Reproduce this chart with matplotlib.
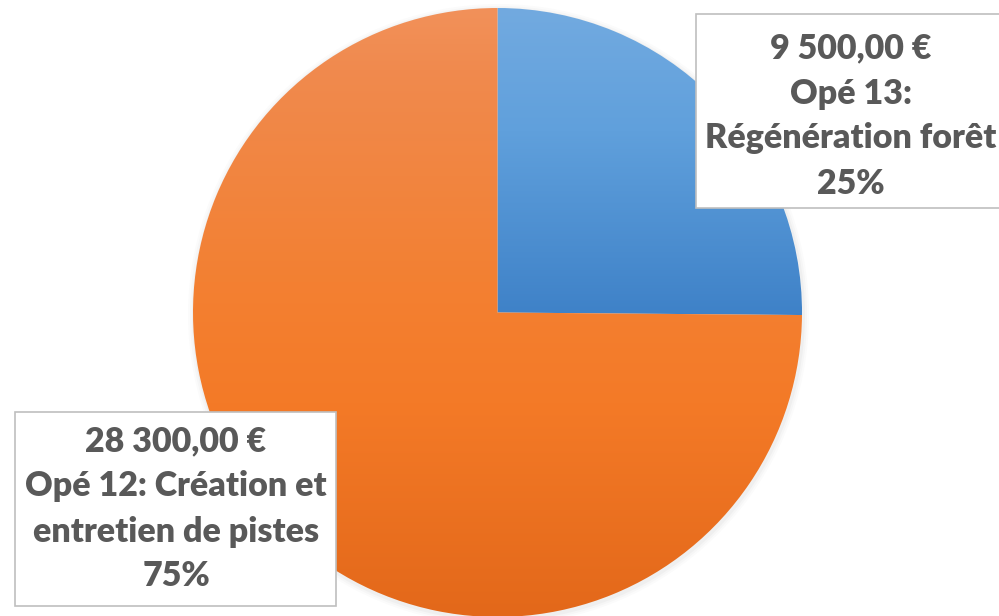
import numpy as np
import matplotlib.pyplot as plt
from matplotlib.colors import LinearSegmentedColormap
from matplotlib.patches import Rectangle

# données
montants = [9500, 28300]
libelles = ["9 500,00 €\nOpé 13:\nRégénération forêt\n25%",
            "28 300,00 €\nOpé 12: Création et\nentretien de pistes\n75%"]
# dégradés (haut -> bas du disque)
degrades = [
    [(0.0, "#72AAE0"), (0.2, "#60A0DC"), (0.5, "#3F82C8"), (1.0, "#3A7AC0")],
    [(0.0, "#F2915A"), (0.1, "#F08A4E"), (0.45, "#F38032"), (0.65, "#F47A27"), (1.0, "#E3681A")],
]

plt.rcParams['font.family'] = ['Lato', 'DejaVu Sans']

fig = plt.figure(figsize=(9.99, 6.16), dpi=100)
ax = fig.add_axes([0, 0, 1, 1])

cx, cy, r = 497.5, 616 - 312.5, 304.5

# ombre légère
for k, a in enumerate([0.05, 0.04, 0.03]):
    sh = plt.Circle((cx + 1, cy - 2), r + 2 + 2 * k, color="#808080", alpha=a, lw=0)
    ax.add_patch(sh)

wedges, _ = ax.pie(montants, center=(cx, cy), radius=r, startangle=90,
                   counterclock=False, frame=True,
                   wedgeprops=dict(linewidth=0.6, edgecolor="#f0f0f0"))

grad = np.linspace(0, 1, 256).reshape(-1, 1)
for w, stops in zip(wedges, degrades):
    cmap = LinearSegmentedColormap.from_list("g", stops)
    im = ax.imshow(grad, cmap=cmap, aspect="auto",
                   extent=[cx - r, cx + r, cy - r, cy + r], origin="upper", zorder=w.get_zorder())
    im.set_clip_path(w)
    w.set_facecolor("none")

ax.set_xlim(0, 999)
ax.set_ylim(0, 616)
ax.set_aspect("auto")
ax.axis("off")

# boîtes d'étiquettes
ax.add_patch(Rectangle((696, 616 - 208), 320, 194, fc="white", ec="#BFBFBF", lw=1.2, zorder=5))
ax.add_patch(Rectangle((15, 616 - 606), 321, 194, fc="white", ec="#BFBFBF", lw=1.2, zorder=5))

ax.text(851, 616 - 116, libelles[0], ha="center", va="center", fontsize=24.5,
        fontweight="heavy", color="#595959", linespacing=1.5, zorder=6)
ax.text(176, 616 - 509, libelles[1], ha="center", va="center", fontsize=24.5,
        fontweight="heavy", color="#595959", linespacing=1.5, zorder=6)

fig.savefig("out.png", dpi=100)
